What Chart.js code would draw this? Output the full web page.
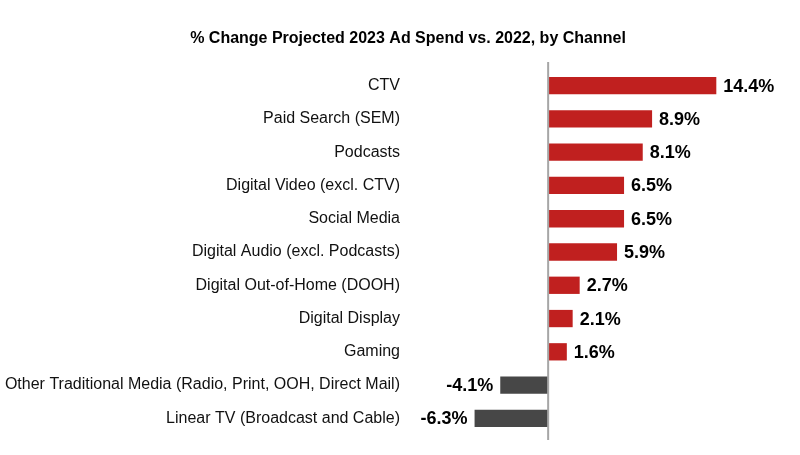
<!DOCTYPE html>
<html>
<head>
<meta charset="utf-8">
<script src="https://cdn.jsdelivr.net/npm/chart.js@4"></script>
<style>
  html, body { margin: 0; padding: 0; background: #fff; }
  canvas { display: block; }
</style>
</head>
<body>
<canvas id="chart" width="800" height="455"></canvas>
<script>
const channels = [
  'CTV',
  'Paid Search (SEM)',
  'Podcasts',
  'Digital Video (excl. CTV)',
  'Social Media',
  'Digital Audio (excl. Podcasts)',
  'Digital Out-of-Home (DOOH)',
  'Digital Display',
  'Gaming',
  'Other Traditional Media (Radio, Print, OOH, Direct Mail)',
  'Linear TV (Broadcast and Cable)'
];
const pctChange = [14.4, 8.9, 8.1, 6.5, 6.5, 5.9, 2.7, 2.1, 1.6, -4.1, -6.3];
const chartTitle = '% Change Projected 2023 Ad Spend vs. 2022, by Channel';

const RED = '#c0201f';
const GRAY = '#474747';
const FONT = '"Liberation Sans", Arial, sans-serif';

// title, zero line and value labels
const extras = {
  id: 'extras',
  afterDatasetsDraw(chart) {
    const {ctx, chartArea, scales: {x}} = chart;
    const x0 = x.getPixelForValue(0);
    ctx.save();
    ctx.fillStyle = '#000';
    ctx.font = 'bold 16px ' + FONT;
    ctx.textAlign = 'center';
    ctx.textBaseline = 'middle';
    ctx.fillText(chartTitle, 408, 39);

    ctx.strokeStyle = '#a6a6a6';
    ctx.lineWidth = 2;
    ctx.beginPath();
    ctx.moveTo(x0, chartArea.top - 7);
    ctx.lineTo(x0, chartArea.bottom + 5);
    ctx.stroke();

    ctx.font = 'bold 18px ' + FONT;
    chart.getDatasetMeta(0).data.forEach((bar, i) => {
      const v = pctChange[i];
      const txt = v.toFixed(1) + '%';
      if (v >= 0) {
        ctx.textAlign = 'left';
        ctx.fillText(txt, bar.x + 7, bar.y + 1);
      } else {
        ctx.textAlign = 'right';
        ctx.fillText(txt, bar.x - 7, bar.y + 1);
      }
    });
    ctx.restore();
  }
};

new Chart(document.getElementById('chart'), {
  type: 'bar',
  data: {
    labels: channels,
    datasets: [{
      data: pctChange,
      backgroundColor: pctChange.map(v => v >= 0 ? RED : GRAY),
      categoryPercentage: 1,
      barPercentage: 0.52
    }]
  },
  options: {
    indexAxis: 'y',
    responsive: false,
    animation: false,
    layout: { padding: { left: 0, right: 65, top: 69, bottom: 20 } },
    scales: {
      x: { display: false, min: -12, max: 16 },
      y: {
        grid: { display: false },
        border: { display: false },
        ticks: { color: '#111', font: { family: FONT, size: 16 }, padding: 0 },
        afterFit(s) { s.width = 408; }
      }
    },
    plugins: {
      legend: { display: false },
      tooltip: { enabled: false },
      title: { display: false }
    }
  },
  plugins: [extras]
});
</script>
</body>
</html>
